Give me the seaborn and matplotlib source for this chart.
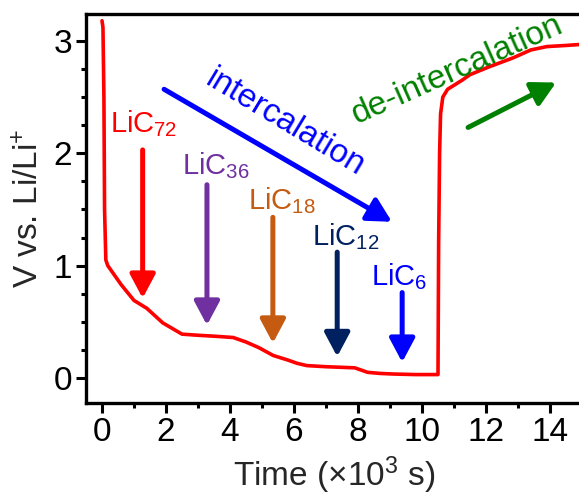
import matplotlib
matplotlib.use("Agg")
import matplotlib.pyplot as plt
import seaborn as sns
import pandas as pd

# ---------------- data ----------------
time_k = [0.0, 0.03, 0.06, 0.08, 0.12, 0.18, 0.6, 1.0, 1.4, 1.9, 2.5, 3.0, 3.6, 4.1,
          4.5, 4.9, 5.35, 5.8, 6.1, 6.4, 7.0, 7.9, 8.1, 8.3, 8.7, 9.1, 9.8, 10.5,
          10.52, 10.55, 10.58, 10.65, 10.8, 11.25, 11.5, 12.1, 12.85, 13.4, 13.9, 14.5, 15.0]
voltage = [3.18, 3.12, 2.5, 1.5, 1.05, 1.0, 0.83, 0.69, 0.62, 0.49, 0.39, 0.38, 0.37, 0.36,
           0.32, 0.27, 0.2, 0.16, 0.13, 0.11, 0.10, 0.09, 0.07, 0.05, 0.04, 0.035, 0.03, 0.03,
           1.2, 2.0, 2.35, 2.5, 2.57, 2.65, 2.70, 2.77, 2.85, 2.92, 2.95, 2.96, 2.97]

stage_labels = ["LiC$_{72}$", "LiC$_{36}$", "LiC$_{18}$", "LiC$_{12}$", "LiC$_{6}$"]
stage_colors = ["#ff0000", "#7030a0", "#c55a11", "#002060", "#0000ff"]
arrow_x = [1.27, 3.28, 5.34, 7.35, 9.38]
arrow_top = [2.03, 1.72, 1.43, 1.12, 0.76]
arrow_tip = [0.71, 0.47, 0.31, 0.19, 0.14]
label_x = [1.3, 3.55, 5.63, 7.62, 9.3]
label_y = [2.19, 1.81, 1.50, 1.18, 0.83]

xticks = [0, 2, 4, 6, 8, 10, 12, 14]
yticks = [0, 1, 2, 3]

df = pd.DataFrame({"Time": time_k, "V": voltage})

# ---------------- style ----------------
sns.set_theme(style="ticks")
plt.rcParams["font.family"] = ["Liberation Sans", "DejaVu Sans"]
plt.rcParams["mathtext.fontset"] = "custom"
plt.rcParams["mathtext.rm"] = "Liberation Sans"
plt.rcParams["mathtext.it"] = "Liberation Sans"
plt.rcParams["mathtext.default"] = "regular"

fig = plt.figure(figsize=(5.79, 4.96), dpi=100)
ax = fig.add_axes([86 / 579, 93 / 496, 496 / 579, 389 / 496])

sns.lineplot(data=df, x="Time", y="V", sort=False, color="#ff0000", lw=2.6, ax=ax)

ax.set_xlim(-0.5, 15.0)
ax.set_ylim(-0.223, 3.24)
ax.set_xticks(xticks)
ax.set_yticks(yticks)
ax.set_xticks([1, 3, 5, 7, 9, 11, 13], minor=True)
ax.set_yticks([0.25, 0.5, 0.75, 1.25, 1.5, 1.75, 2.25, 2.5, 2.75], minor=True)
ax.tick_params(which="major", direction="out", length=7, width=2.2, labelsize=24, pad=3, colors="black")
ax.tick_params(which="minor", direction="out", length=3.5, width=2.2, colors="black")
for s in ax.spines.values():
    s.set_linewidth(2.4)
    s.set_color("black")

ax.set_xlabel("Time (×10$^3$ s)", fontsize=24, labelpad=5)
ax.set_ylabel("V vs. Li/Li$^{+}$", fontsize=24, labelpad=6)

head = "-|>,head_length=0.6,head_width=0.32"
# stage arrows and labels
for lab, c, xa, yt, yb, lx, ly in zip(stage_labels, stage_colors, arrow_x, arrow_top,
                                      arrow_tip, label_x, label_y):
    ax.annotate("", xy=(xa, yb), xytext=(xa, yt),
                arrowprops=dict(arrowstyle=head, color=c, lw=3.6, mutation_scale=24,
                                shrinkA=0, shrinkB=0))
    ax.text(lx, ly, lab, color=c, fontsize=21, ha="center", va="baseline")

# intercalation arrow
ax.annotate("", xy=(9.06, 1.39), xytext=(1.94, 2.57),
            arrowprops=dict(arrowstyle=head, color="#0000ff", lw=3.6, mutation_scale=24,
                            shrinkA=0, shrinkB=0))
ax.text(5.72, 2.27, "intercalation", color="#0000ff", fontsize=24, rotation=-31,
        ha="center", va="center", rotation_mode="anchor")

# de-intercalation arrow
ax.annotate("", xy=(14.19, 2.63), xytext=(11.44, 2.23),
            arrowprops=dict(arrowstyle=head, color="#008000", lw=3.6, mutation_scale=24,
                            shrinkA=0, shrinkB=0))
ax.text(11.1, 2.74, "de-intercalation", color="#008000", fontsize=24, rotation=24,
        ha="center", va="center", rotation_mode="anchor")

fig.savefig("out.png", dpi=100)
